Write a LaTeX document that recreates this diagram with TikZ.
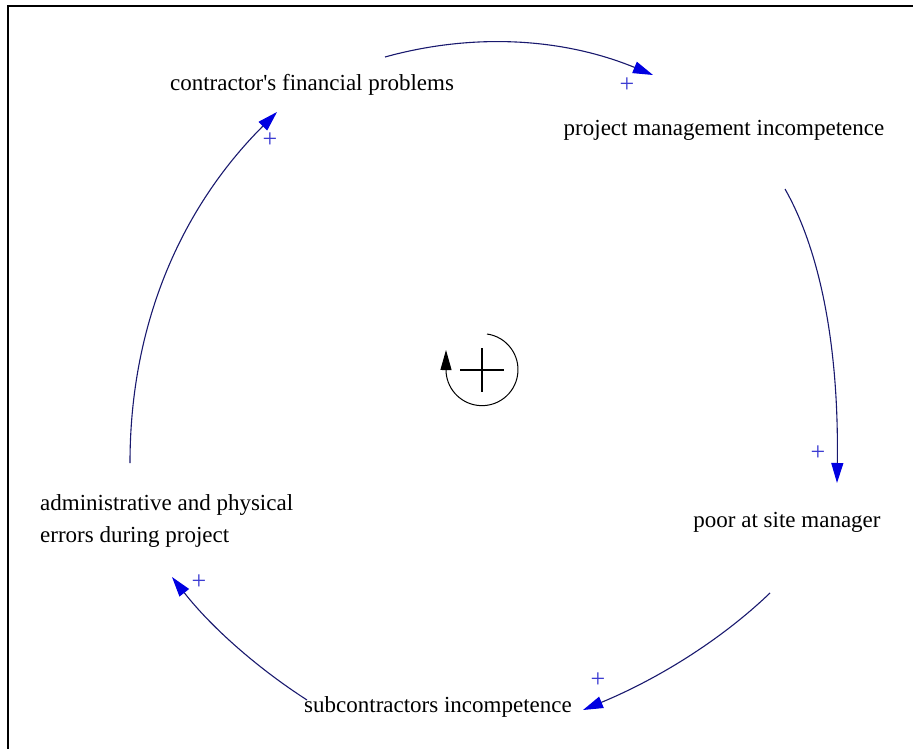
\documentclass[tikz,border=0pt]{standalone}
\usepackage{fontspec}
\setmainfont{Liberation Serif}
\usetikzlibrary{arrows.meta}
\definecolor{linenavy}{RGB}{25,25,110}
\definecolor{tipblue}{RGB}{0,0,225}
\definecolor{plusblue}{RGB}{60,60,210}
\tikzset{
  lbl/.style={inner sep=0pt, font=\fontsize{23}{32}\selectfont, anchor=base, text=black},
  pluslbl/.style={inner sep=0pt, font=\fontsize{26}{26}\selectfont, text=plusblue},
  link/.style={draw=linenavy, line width=1.1pt, -{Triangle[length=20pt,width=12pt,color=tipblue]}},
  frameline/.style={line width=2pt, black}
}
\begin{document}
\begin{tikzpicture}[x=1pt,y=-1pt]
\useasboundingbox (0,0) rectangle (913,749);
\draw[frameline] (8,749) -- (8,6) -- (913,6);

% variables
\node[lbl] (cfp) at (312,91) {contractor\textquotesingle s financial problems};
\node[lbl] (pmi) at (724,136) {project management incompetence};
\node[lbl] (psm) at (787,527) {poor at site manager};
\node[lbl] (sci) at (438,712) {subcontractors incompetence};
\node[lbl, anchor=base west, align=left] (ape) at (40,542) {administrative and physical\\errors during project};

% link end points
\coordinate (a1s) at (385,57);  \coordinate (a1e) at (653,75);
\coordinate (a2s) at (785,189); \coordinate (a2e) at (837,483);
\coordinate (a3s) at (770,593); \coordinate (a3e) at (583,710);
\coordinate (a4s) at (307,700); \coordinate (a4e) at (172,577);
\coordinate (a5s) at (130,463); \coordinate (a5e) at (277,112);

% links
\draw[link] (a1s) .. controls (474.3,32.3) and (563.7,38.3) .. (a1e);
\draw[link] (a2s) .. controls (821.7,253.7) and (839,351.7) .. (a2e);
\draw[link] (a3s) .. controls (721.7,639.3) and (659.3,678.3) .. (a3e);
\draw[link] (a4s) .. controls (254.7,666.3) and (209.7,625.3) .. (a4e);
\draw[link] (a5s) .. controls (130,327) and (179,210) .. (a5e);

% polarities
\node[pluslbl] (p1) at (627,85) {+};
\node[pluslbl] (p2) at (818,453) {+};
\node[pluslbl] (p3) at (598,680) {+};
\node[pluslbl] (p4) at (199,582) {+};
\node[pluslbl] (p5) at (270,140) {+};

% loop symbol
\coordinate (lc) at (482,370);
\draw[black, line width=1pt, -{Triangle[length=20pt,width=11pt]}]
  (487,334) arc[start angle=-82, end angle=180, radius=36] -- (446,350);
\draw[black, line width=2.4pt] (460,370) -- (504,370);
\draw[black, line width=2.4pt] (482,348) -- (482,392);
\end{tikzpicture}
\end{document}
